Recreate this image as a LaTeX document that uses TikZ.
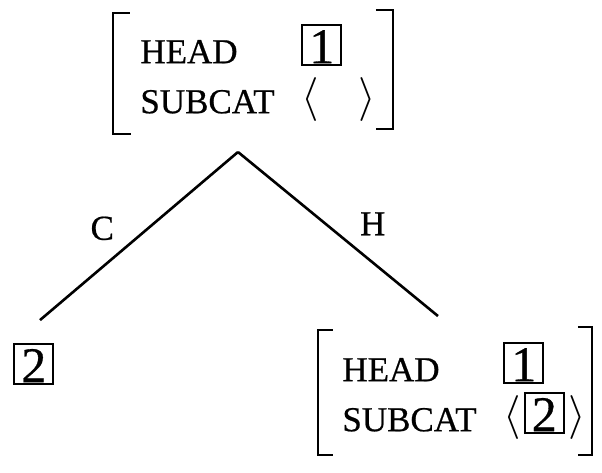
\documentclass[tikz,border=0pt]{standalone}
\usepackage{fontspec}
\setmainfont[FakeBold=0.6]{Liberation Serif}

% boxed tag, fixed-width feature name, tall angle brackets
\newcommand{\tagbox}[1]{{\setlength{\fboxsep}{0pt}\setlength{\fboxrule}{0.9pt}%
  \framebox[20.4pt]{\rule[-0.5pt]{0pt}{19pt}\fontsize{25}{25}\selectfont #1}}}
\newcommand{\feat}[1]{\makebox[80.5pt][l]{#1}}
\newcommand{\lang}{\raisebox{1.5pt}{\scalebox{1.3}[1.27]{$\langle$}}}
\newcommand{\rang}{\raisebox{1.5pt}{\scalebox{1.3}[1.27]{$\rangle$}}}

\begin{document}
\begin{tikzpicture}[x=0.5pt,y=-0.5pt,
    avm/.style={inner sep=0pt,align=left,anchor=north west,font=\fontsize{17.5}{25}\selectfont},
    avmbracket/.style={line width=1.4pt},
    branch/.style={line width=1.3pt},
    lbl/.style={font=\fontsize{17.5}{20}\selectfont,inner sep=4pt}]
\useasboundingbox (0,0) rectangle (602,473);

% mother
\node[avm] (mother) at (140,24) {\feat{HEAD}\tagbox{1}\\
  \feat{SUBCAT}\lang\hspace{20pt}\rang};
\draw[avmbracket] (130,13) -- (113,13) -- (113,134) -- (131,134);
\draw[avmbracket] (376,10) -- (393,10) -- (393,129) -- (376,129);

% daughters
\node[avm] (comp) at (13,343) {\tagbox{2}};
\node[avm] (head) at (342,342) {\feat{HEAD}\tagbox{1}\\
  \feat{SUBCAT}\lang\hspace{1.5pt}\tagbox{2}\hspace{2pt}\rang};
\draw[avmbracket] (333,330) -- (318,330) -- (318,455) -- (333,455);
\draw[avmbracket] (578,327) -- (592,327) -- (592,455) -- (578,455);

% branches
\coordinate (apex) at (238,152);
\coordinate (hbrk) at (455,330);
\draw[branch,shorten >=17.7pt] (apex) -- node[lbl,pos=0.51,above left] (c) {C} (comp.north west);
\draw[branch,shorten >=11pt] (apex) -- node[lbl,pos=0.52,above right] (h) {H} (hbrk);
\end{tikzpicture}
\end{document}
